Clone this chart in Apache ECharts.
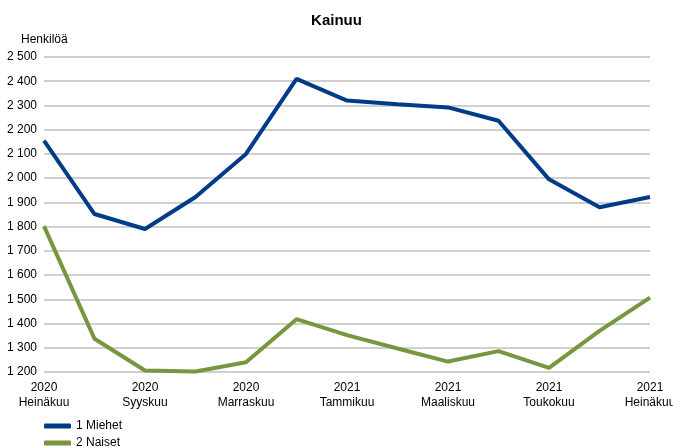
<!DOCTYPE html>
<html>
<head>
<meta charset="utf-8">
<script src="https://cdn.jsdelivr.net/npm/echarts@6/dist/echarts.min.js"></script>
<style>
  html, body { margin: 0; padding: 0; background: #fff; }
  #chart { width: 673px; height: 448px; }
</style>
</head>
<body>
<div id="chart"></div>
<script>
var years = ['2020', '2020', '2020', '2020', '2020', '2020', '2021', '2021', '2021', '2021', '2021', '2021', '2021'];
var months = ['Heinäkuu', 'Elokuu', 'Syyskuu', 'Lokakuu', 'Marraskuu', 'Joulukuu',
    'Tammikuu', 'Helmikuu', 'Maaliskuu', 'Huhtikuu', 'Toukokuu', 'Kesäkuu', 'Heinäkuu'];
var miehet = [2155, 1852, 1790, 1922, 2100, 2410, 2320, 2305, 2292, 2237, 1995, 1880, 1922];
var naiset = [1802, 1337, 1206, 1202, 1240, 1418, 1352, 1297, 1243, 1286, 1217, 1370, 1507];

var categories = months.map(function (m, i) {
    return years[i] + '\n' + m;
});

var chart = echarts.init(document.getElementById('chart'));
var font = 'Liberation Sans, Arial, sans-serif';

function legendAt(top, name) {
    return {
        orient: 'vertical',
        left: 44,
        top: top,
        padding: 0,
        itemWidth: 27,
        itemHeight: 5,
        icon: 'roundRect',
        textStyle: { fontSize: 12, color: '#000', fontFamily: font },
        data: [name]
    };
}

var option = {
    animation: false,
    textStyle: { fontFamily: font },
    title: {
        left: 'center',
        top: 8,
        text: 'Kainuu',
        textStyle: { fontSize: 15, fontWeight: 'bold', color: '#000', fontFamily: font }
    },
    legend: [legendAt(420, '1 Miehet'), legendAt(437, '2 Naiset')],
    grid: { left: 44, right: 23, top: 57, bottom: 76, outerBoundsMode: 'none' },
    xAxis: {
        type: 'category',
        boundaryGap: false,
        data: categories,
        axisLine: { show: false },
        axisTick: { show: false },
        axisLabel: {
            interval: 1,
            margin: 8,
            color: '#000',
            fontSize: 12,
            lineHeight: 15,
            fontFamily: font
        }
    },
    yAxis: {
        type: 'value',
        min: 1200,
        max: 2500,
        interval: 100,
        name: 'Henkilöä',
        nameLocation: 'end',
        nameGap: 11,
        nameTextStyle: { align: 'left', padding: [0, 0, 0, -23], color: '#000', fontSize: 12, fontFamily: font },
        axisLine: { show: false },
        axisTick: { show: false },
        splitLine: { lineStyle: { color: '#c0c0c0', width: 1.5 } },
        axisLabel: {
            margin: 7,
            color: '#000',
            fontSize: 12,
            fontFamily: font,
            formatter: function (v) {
                return String(v).replace(/\B(?=(\d{3})+(?!\d))/g, ' ');
            }
        }
    },
    series: [
        {
            name: '1 Miehet',
            type: 'line',
            showSymbol: false,
            data: miehet,
            itemStyle: { color: '#003b87' },
            lineStyle: { width: 4, color: '#003b87' }
        },
        {
            name: '2 Naiset',
            type: 'line',
            showSymbol: false,
            data: naiset,
            itemStyle: { color: '#76963f' },
            lineStyle: { width: 4, color: '#76963f' }
        }
    ]
};

chart.setOption(option);
</script>
</body>
</html>
